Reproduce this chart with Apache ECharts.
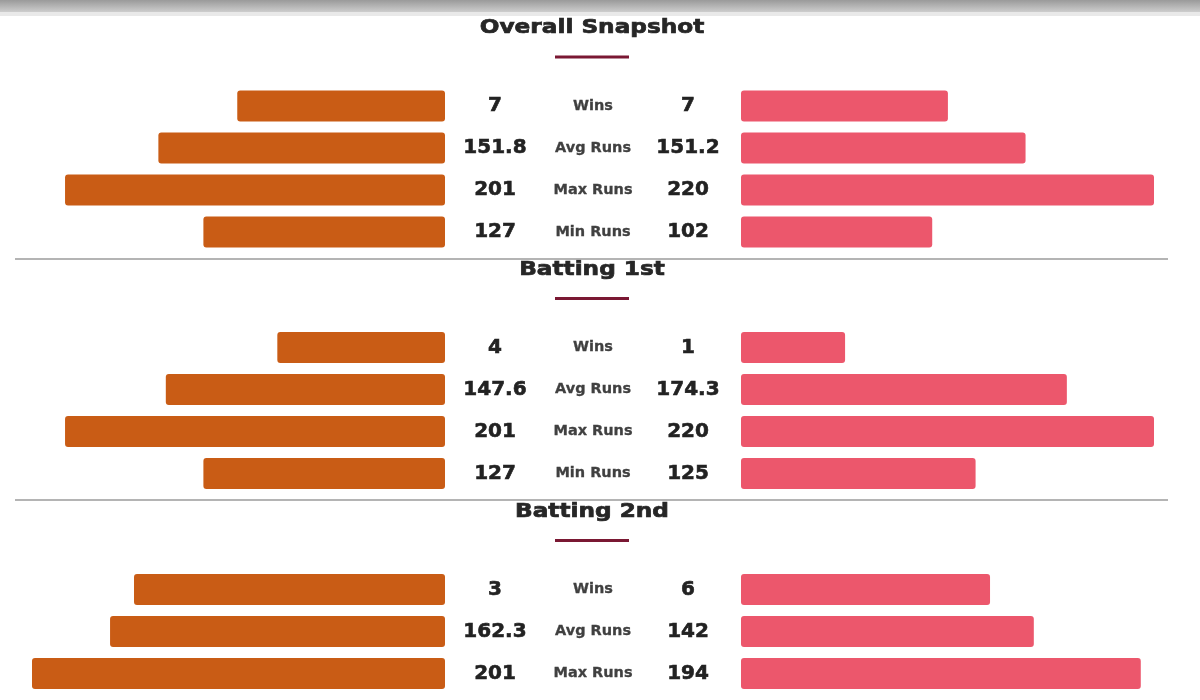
<!DOCTYPE html>
<html>
<head>
<meta charset="utf-8">
<title>Head to head</title>
<script src="https://cdn.jsdelivr.net/npm/echarts@6/dist/echarts.min.js"></script>
<style>
  html, body { margin: 0; padding: 0; background: #fff; overflow: hidden; }
  #main { width: 1200px; height: 700px; }
</style>
</head>
<body>
<div id="main"></div>
<script>
// section titles and row names
var sectionNames = ['Overall Snapshot', 'Batting 1st', 'Batting 2nd'];
var metrics = ['Wins', 'Avg Runs', 'Max Runs', 'Min Runs'];

// printed values (left team / right team)
var overallLeft = ['7', '151.8', '201', '127'];
var overallRight = ['7', '151.2', '220', '102'];
var bat1Left = ['4', '147.6', '201', '127'];
var bat1Right = ['1', '174.3', '220', '125'];
var bat2Left = ['3', '162.3', '201'];
var bat2Right = ['6', '142', '194'];

// bar lengths (percent of full bar width)
var overallLeftBar = [50.3, 69.4, 92.0, 58.5];
var overallRightBar = [50.1, 68.9, 100, 46.3];
var bat1LeftBar = [40.6, 67.6, 92.0, 58.5];
var bat1RightBar = [25.2, 78.9, 100, 56.8];
var bat2LeftBar = [75.3, 81.1, 100];
var bat2RightBar = [60.3, 70.9, 96.8];

var leftVals = [overallLeft, bat1Left, bat2Left];
var rightVals = [overallRight, bat1Right, bat2Right];
var leftBars = [overallLeftBar, bat1LeftBar, bat2LeftBar];
var rightBars = [overallRightBar, bat1RightBar, bat2RightBar];

var orange = '#C95C15';
var pink = '#EC576C';
var ROW = 42;
var gridTops = [85, 326.5, 568.5];
var titleY = [28, 270, 512];
var lineY = [57, 298.5, 540.5];
var dividerY = [259, 500];

var valueFont = { fontFamily: 'DejaVu Sans', fontWeight: 'bold', fontSize: 20, color: '#222',
	textBorderColor: '#222', textBorderWidth: 0.6 };
var metricFont = { fontFamily: 'DejaVu Sans', fontWeight: 'bold', fontSize: 14.5, color: '#404040',
	textBorderColor: '#404040', textBorderWidth: 0.3 };

var grid = [], xAxis = [], yAxis = [], series = [];

sectionNames.forEach(function(name, s) {
	var n = leftBars[s].length;
	var cats = metrics.slice(0, n);
	var gl = grid.length;
	// left grid + right grid
	grid.push({ left: 32, width: 413, top: gridTops[s], height: ROW * n });
	grid.push({ left: 741, width: 413, top: gridTops[s], height: ROW * n });

	xAxis.push({ gridIndex: gl, type: 'value', min: 0, max: 100, inverse: true, show: false });
	xAxis.push({ gridIndex: gl + 1, type: 'value', min: 0, max: 100, show: false });

	var yl = yAxis.length;
	// left values, right of the orange bars
	yAxis.push({
		gridIndex: gl, type: 'category', data: cats, inverse: true, position: 'right',
		axisLine: { show: false }, axisTick: { show: false },
		axisLabel: Object.assign({ interval: 0, align: 'center', margin: 50,
			formatter: function(v, i) { return leftVals[s][i]; } }, valueFont)
	});
	// metric names in the middle
	yAxis.push({
		gridIndex: gl, type: 'category', data: cats, inverse: true, position: 'right',
		axisLine: { show: false }, axisTick: { show: false },
		axisLabel: Object.assign({ interval: 0, align: 'center', margin: 148 }, metricFont)
	});
	// right values, left of the pink bars
	yAxis.push({
		gridIndex: gl + 1, type: 'category', data: cats, inverse: true, position: 'left',
		axisLine: { show: false }, axisTick: { show: false },
		axisLabel: Object.assign({ interval: 0, align: 'center', margin: 53,
			formatter: function(v, i) { return rightVals[s][i]; } }, valueFont)
	});

	series.push({
		type: 'bar', xAxisIndex: gl, yAxisIndex: yl, data: leftBars[s],
		barWidth: 31, silent: true,
		itemStyle: { color: orange, borderRadius: 3 }
	});
	series.push({
		type: 'bar', xAxisIndex: gl + 1, yAxisIndex: yl + 2, data: rightBars[s],
		barWidth: 31, silent: true,
		itemStyle: { color: pink, borderRadius: 3 }
	});
});

var graphic = [
	{ type: 'rect', shape: { x: 0, y: 0, width: 1200, height: 12 },
	  style: { fill: new echarts.graphic.LinearGradient(0, 0, 0, 1, [
		{ offset: 0, color: '#9a9a9a' }, { offset: 1, color: '#cdcdcd' }]) } },
	{ type: 'rect', shape: { x: 0, y: 12, width: 1200, height: 4 }, style: { fill: '#e9e9e9' } }
];
sectionNames.forEach(function(name, s) {
	graphic.push({
		type: 'text', x: 592, y: titleY[s], scaleX: 1.16,
		style: { text: name, fontFamily: 'DejaVu Sans', fontWeight: 'bold', fontSize: 20,
			fill: '#262626', stroke: '#262626', lineWidth: 0.7,
			align: 'center', verticalAlign: 'middle' }
	});
	graphic.push({
		type: 'line', shape: { x1: 555, y1: lineY[s], x2: 629, y2: lineY[s] },
		style: { stroke: '#7A1833', lineWidth: 3 }
	});
});
dividerY.forEach(function(y) {
	graphic.push({
		type: 'line', shape: { x1: 15, y1: y, x2: 1168, y2: y },
		style: { stroke: '#9b9b9b', lineWidth: 1.5 }
	});
});

var option = {
	backgroundColor: '#fff',
	animation: false,
	grid: grid,
	xAxis: xAxis,
	yAxis: yAxis,
	series: series,
	graphic: graphic
};

var myChart = echarts.init(document.getElementById('main'));
myChart.setOption(option, true);
</script>
</body>
</html>
